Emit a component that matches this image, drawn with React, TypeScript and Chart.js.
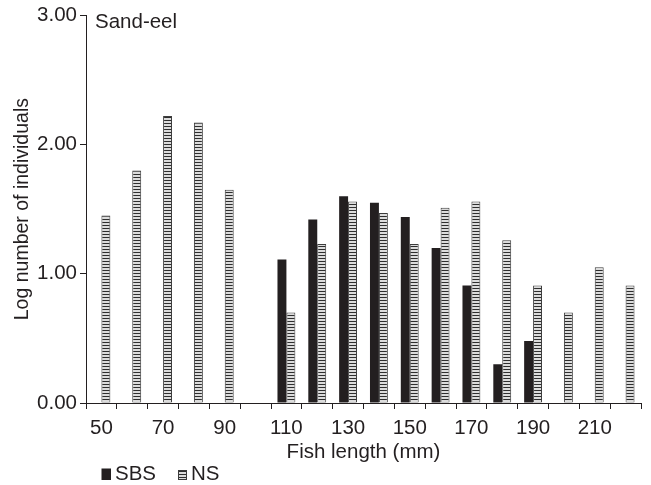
import React, { useEffect, useRef } from 'react';
import { Chart, registerables } from 'chart.js';

Chart.register(...registerables);

const categories = ['50', '60', '70', '80', '90', '100', '110', '120', '130', '140', '150', '160', '170', '180', '190', '200', '210', '220'];
const sbsValues = [null, null, null, null, null, null, 1.11, 1.42, 1.6, 1.55, 1.44, 1.2, 0.91, 0.3, 0.48, null, null, null];
const nsValues = [1.45, 1.8, 2.22, 2.17, 1.65, null, 0.7, 1.23, 1.56, 1.47, 1.23, 1.51, 1.56, 1.26, 0.91, 0.7, 1.05, 0.91];
const seriesNames = ['SBS', 'NS'];
const chartTitle = 'Sand-eel';
const xTitle = 'Fish length (mm)';
const yTitle = 'Log number of individuals';

const FONT = "'Liberation Sans', Arial, Helvetica, sans-serif";
const INK = '#231f20';
const FS = 20.5;

function makeStripePattern(): CanvasPattern | string {
  const c = document.createElement('canvas');
  c.width = 4;
  c.height = 3;
  const g = c.getContext('2d');
  if (!g) return '#cccccc';
  g.fillStyle = '#dcdcdc';
  g.fillRect(0, 0, 4, 3);
  g.fillStyle = '#2e2e2e';
  g.fillRect(0, 0, 4, 1);
  const p = g.createPattern(c, 'repeat');
  return p || '#cccccc';
}

export default function App() {
  const ref = useRef<HTMLCanvasElement | null>(null);

  useEffect(() => {
    document.body.style.margin = '0';
    const canvas = ref.current;
    if (!canvas) return;
    const stripe = makeStripePattern();

    const overlay = {
      id: 'overlay',
      afterDraw(chart: any) {
        const ctx = chart.ctx;
        const area = chart.chartArea;
        ctx.save();
        ctx.fillStyle = INK;
        ctx.font = `${FS}px ${FONT}`;
        ctx.textBaseline = 'alphabetic';
        ctx.textAlign = 'left';
        ctx.fillText(chartTitle, area.left + 9, 27.5);

        // legend
        const ds = chart.data.datasets;
        const baseY = 480;
        let x = 101.5;
        ds.forEach((d: any, i: number) => {
          const bw = i === 0 ? 9.5 : 9;
          const bh = i === 0 ? 11.5 : 10;
          ctx.fillStyle = d.backgroundColor;
          ctx.fillRect(x, baseY - bh, bw, bh);
          if (d.borderWidth) {
            ctx.strokeStyle = d.borderColor;
            ctx.lineWidth = 1;
            ctx.strokeRect(x + 0.5, baseY - bh + 0.5, bw - 1, bh - 1);
          }
          ctx.fillStyle = INK;
          ctx.fillText(d.label, x + bw + 4, baseY);
          x = i === 0 ? 178 : x + 80;
        });
        ctx.restore();
      },
    };

    const chart = new Chart(canvas, {
      type: 'bar',
      data: {
        labels: categories,
        datasets: [
          {
            label: seriesNames[0],
            data: sbsValues,
            backgroundColor: INK,
            borderWidth: 0,
            categoryPercentage: 0.58,
            barPercentage: 1.0,
          },
          {
            label: seriesNames[1],
            data: nsValues,
            backgroundColor: stripe as any,
            borderColor: '#3c3c3c',
            borderWidth: 1,
            categoryPercentage: 0.58,
            barPercentage: 1.0,
          },
        ],
      },
      plugins: [overlay],
      options: {
        responsive: false,
        animation: false,
        devicePixelRatio: 1,
        layout: { padding: { top: 13, right: 10, left: 0, bottom: 0 } },
        plugins: {
          legend: { display: false },
          tooltip: { enabled: false },
        },
        scales: {
          x: {
            grid: {
              display: true,
              drawOnChartArea: false,
              drawTicks: true,
              tickLength: 6,
              color: INK,
              offset: true,
            },
            border: { display: true, color: INK, width: 1 },
            ticks: {
              autoSkip: false,
              maxRotation: 0,
              color: INK,
              font: { family: FONT, size: FS },
              padding: 7,
              callback: (_v: any, i: number) => (i % 2 === 0 ? categories[i] : ''),
            },
            title: {
              display: true,
              text: xTitle,
              color: INK,
              font: { family: FONT, size: FS },
              padding: { top: 0, bottom: 20 },
            },
            afterFit: (s: any) => {
              s.height = 82;
            },
          },
          y: {
            min: 0,
            max: 3,
            grid: {
              display: true,
              drawOnChartArea: false,
              drawTicks: true,
              tickLength: 6,
              color: INK,
            },
            border: { display: true, color: INK, width: 1 },
            ticks: {
              stepSize: 1,
              color: INK,
              font: { family: FONT, size: FS },
              padding: 3,
              callback: (v: any) => Number(v).toFixed(2),
            },
            title: {
              display: true,
              text: yTitle,
              color: INK,
              font: { family: FONT, size: 19.5 },
              padding: { top: 11, bottom: 0 },
            },
            afterFit: (s: any) => {
              s.width = 86;
            },
          },
        },
      },
    });

    return () => chart.destroy();
  }, []);

  return (
    <div style={{ width: 651, height: 485, position: 'relative' }}>
      <canvas ref={ref} width={651} height={485} />
    </div>
  );
}
